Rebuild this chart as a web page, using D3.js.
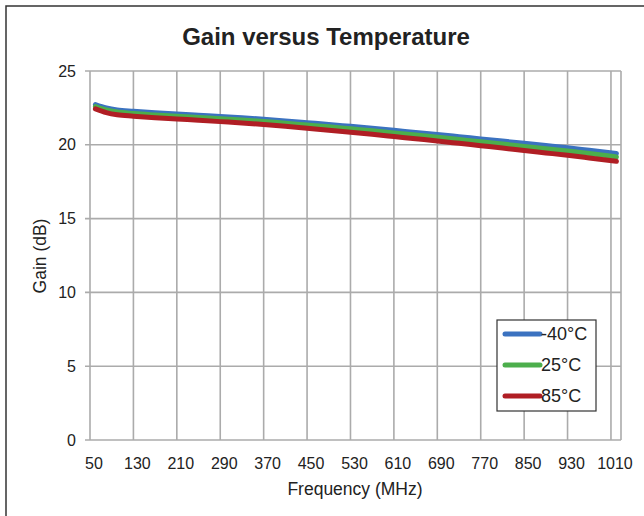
<!DOCTYPE html>
<html><head><meta charset="utf-8">
<script src="https://cdn.jsdelivr.net/npm/d3@7/dist/d3.min.js"></script>
<style>body{margin:0;background:#fff;}svg{display:block;font-family:"Liberation Sans",Arial,sans-serif;}</style>
</head><body>
<script>
const freqs = [60,80,100,130,170,210,250,290,330,370,410,450,490,530,570,610,650,690,730,770,810,850,890,930,970,1020];
const gainM40 = [22.73,22.5,22.36,22.27,22.17,22.08,22.0,21.92,21.83,21.73,21.62,21.5,21.38,21.25,21.12,20.98,20.84,20.7,20.55,20.4,20.25,20.1,19.95,19.8,19.63,19.42];
const gain25 = [22.59,22.36,22.22,22.12,22.02,21.93,21.85,21.77,21.68,21.58,21.46,21.34,21.22,21.08,20.95,20.8,20.66,20.51,20.36,20.2,20.05,19.89,19.74,19.58,19.41,19.18];
const gain85 = [22.43,22.18,22.03,21.94,21.84,21.75,21.66,21.57,21.48,21.37,21.25,21.12,20.99,20.85,20.71,20.56,20.41,20.26,20.1,19.94,19.78,19.61,19.45,19.29,19.11,18.88];
const xTicks = [50,130,210,290,370,450,530,610,690,770,850,930,1010];
const yTicks = [0,5,10,15,20,25];
const seriesNames = ["-40°C","25°C","85°C"];
const seriesColors = ["#3b72c0","#4cae4c","#b01e24"];
const seriesData = [gainM40, gain25, gain85];

const W = 644, H = 516;
const svg = d3.select("body").append("svg").attr("width", W).attr("height", H);

// outer frame (extends beyond canvas on right and bottom)
svg.append("rect").attr("x",6).attr("y",6).attr("width",720).attr("height",600)
  .attr("fill","none").attr("stroke","#333").attr("stroke-width",1.5);

const x = d3.scaleLinear().domain([50, 1028.5]).range([90, 621]);
const y = d3.scaleLinear().domain([0, 25]).range([440, 71]);

// horizontal gridlines
svg.append("g").selectAll("line").data(yTicks).join("line")
  .attr("x1",85).attr("x2",621).attr("y1",d=>y(d)).attr("y2",d=>y(d))
  .attr("stroke","#ababab").attr("stroke-width",1.6);
// vertical gridlines
svg.append("g").selectAll("line").data(xTicks).join("line")
  .attr("x1",d=>x(d)).attr("x2",d=>x(d)).attr("y1",y(25)).attr("y2",y(0))
  .attr("stroke","#ababab").attr("stroke-width",1.6);
svg.append("line").attr("x1",x(1028.5)).attr("x2",x(1028.5)).attr("y1",y(25)).attr("y2",y(0))
  .attr("stroke","#ababab").attr("stroke-width",1.6);

// tick labels
svg.append("g").selectAll("text").data(yTicks).join("text")
  .attr("x",76).attr("y",d=>y(d)).attr("dy","0.35em").attr("text-anchor","end")
  .attr("font-size",16).attr("fill","#222").text(d=>d);
svg.append("g").selectAll("text").data(xTicks).join("text")
  .attr("x",d=>x(d)+4).attr("y",463).attr("dy","0.35em").attr("text-anchor","middle")
  .attr("font-size",16).attr("fill","#222").text(d=>d);

// titles
svg.append("text").attr("x",326).attr("y",37).attr("dy","0.35em").attr("text-anchor","middle")
  .attr("font-size",24).attr("font-weight","bold").attr("fill","#222").text("Gain versus Temperature");
svg.append("text").attr("x",355).attr("y",489).attr("dy","0.35em").attr("text-anchor","middle")
  .attr("font-size",17.5).attr("fill","#222").text("Frequency (MHz)");
svg.append("text").attr("transform","translate(40,256) rotate(-90)").attr("dy","0.35em")
  .attr("text-anchor","middle").attr("font-size",17.5).attr("fill","#222").text("Gain (dB)");

// lines
const line = d3.line().x((d,i)=>x(freqs[i])).y(d=>y(d)).curve(d3.curveMonotoneX);
seriesData.forEach((s,k)=>{
  svg.append("path").datum(s).attr("d",line).attr("fill","none")
    .attr("stroke",seriesColors[k]).attr("stroke-width",5)
    .attr("stroke-linecap","round").attr("stroke-linejoin","round");
});

// legend
const lg = svg.append("g");
lg.append("rect").attr("x",497).attr("y",320).attr("width",99).attr("height",91)
  .attr("fill","#fff").attr("stroke","#333").attr("stroke-width",1.2);
const ly = [334,365,396];
seriesNames.forEach((n,k)=>{
  lg.append("line").attr("x1",505).attr("x2",540).attr("y1",ly[k]).attr("y2",ly[k])
    .attr("stroke",seriesColors[k]).attr("stroke-width",5).attr("stroke-linecap","round");
  lg.append("text").attr("x",541).attr("y",ly[k]).attr("dy","0.35em")
    .attr("font-size",18).attr("fill","#222").text(n);
});
</script>
</body></html>
